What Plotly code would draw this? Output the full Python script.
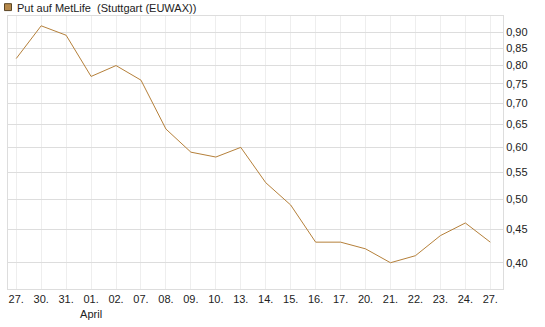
import plotly.graph_objects as go
import math

dates = ["27.", "30.", "31.", "01.", "02.", "07.", "08.", "09.", "10.", "13.",
         "14.", "15.", "16.", "17.", "20.", "21.", "22.", "23.", "24.", "27."]
month_labels = ["", "", "", "April", "", "", "", "", "", "",
                "", "", "", "", "", "", "", "", "", ""]
values = [0.82, 0.92, 0.89, 0.77, 0.80, 0.76, 0.64, 0.59, 0.58, 0.60,
          0.53, 0.49, 0.43, 0.43, 0.42, 0.40, 0.41, 0.44, 0.46, 0.43]
y_ticks = [0.40, 0.45, 0.50, 0.55, 0.60, 0.65, 0.70, 0.75, 0.80, 0.85, 0.90]

idx = list(range(len(dates)))
ticktext = [d + ("<br>" + m if m else "") for d, m in zip(dates, month_labels)]

PW, PH, L, T = 496, 277, 7, 16

fig = go.Figure()
fig.add_trace(go.Scatter(x=idx, y=values, mode="lines",
                         line=dict(color="#b5803a", width=1),
                         showlegend=False, hoverinfo="skip"))

fig.update_layout(
    width=545, height=327,
    margin=dict(l=L, r=42, t=T, b=34),
    paper_bgcolor="white", plot_bgcolor="white",
    separators=",.",
    font=dict(family="Liberation Sans, Arial, sans-serif", size=11, color="#222222"),
    xaxis=dict(range=[-0.33, 19.51], tickvals=idx, ticktext=ticktext,
               showgrid=True, gridcolor="#eeeeee", gridwidth=1,
               showline=True, linecolor="#dddddd", mirror=True,
               ticks="", zeroline=False, tickfont=dict(size=11)),
    yaxis=dict(type="log", side="right",
               range=[math.log10(0.3647), math.log10(0.9523)],
               tickvals=y_ticks, tickformat=".2f",
               showgrid=True, gridcolor="#dddddd", gridwidth=1,
               showline=True, linecolor="#dddddd", mirror=True,
               ticks="", zeroline=False, tickfont=dict(size=11)),
)

def px_x(x):
    return (x - L) / PW

def px_y(y):
    return 1 + (T - y) / PH

fig.add_shape(type="rect", xref="paper", yref="paper",
              x0=px_x(3.5), x1=px_x(10.5), y0=px_y(10.5), y1=px_y(3.5),
              fillcolor="#b5884a", line=dict(color="#5a4525", width=1))
fig.add_annotation(xref="paper", yref="paper", x=px_x(14), y=px_y(0),
                   xanchor="left", yanchor="top", showarrow=False,
                   text="Put auf MetLife  (Stuttgart (EUWAX))",
                   font=dict(size=11, color="#222222"))

fig.write_html("out.html")
